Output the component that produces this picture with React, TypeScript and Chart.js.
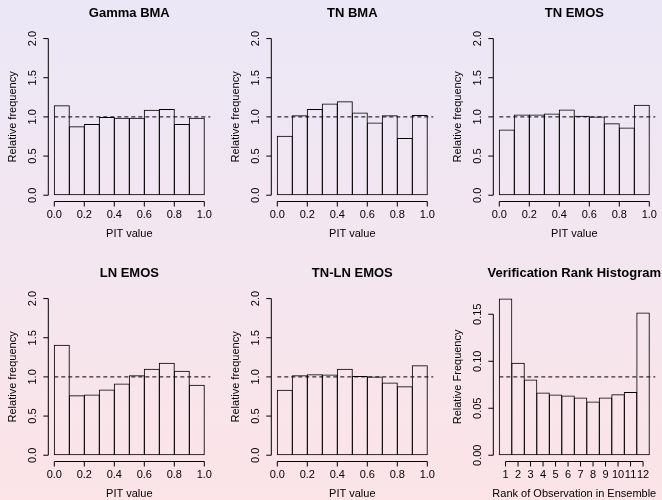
import React, { useEffect, useRef } from "react";
import { Chart, registerables } from "chart.js";

Chart.register(...registerables);

// ---------- data ----------
const pitBinCenters = [0.05, 0.15, 0.25, 0.35, 0.45, 0.55, 0.65, 0.75, 0.85, 0.95];
const pitXTicks = [0, 0.2, 0.4, 0.6, 0.8, 1.0];
const pitXTickLabels = ["0.0", "0.2", "0.4", "0.6", "0.8", "1.0"];
const pitYTicks = [0, 0.5, 1.0, 1.5, 2.0];
const pitYTickLabels = ["0.0", "0.5", "1.0", "1.5", "2.0"];

const gammaBMA = [1.15, 0.88, 0.91, 1.0, 0.99, 0.99, 1.09, 1.1, 0.91, 0.99];
const tnBMA = [0.76, 1.02, 1.1, 1.17, 1.2, 1.055, 0.93, 1.02, 0.73, 1.025];
const tnEMOS = [0.84, 1.03, 1.03, 1.045, 1.095, 1.015, 1.005, 0.92, 0.865, 1.155];
const lnEMOS = [1.41, 0.765, 0.775, 0.84, 0.915, 1.02, 1.105, 1.18, 1.08, 0.9];
const tnlnEMOS = [0.835, 1.02, 1.035, 1.03, 1.105, 1.01, 1.005, 0.93, 0.88, 1.15];

const rankCategories = [1, 2, 3, 4, 5, 6, 7, 8, 9, 10, 11, 12];
const rankValues = [0.1667, 0.0985, 0.0805, 0.0667, 0.0645, 0.0635, 0.0613, 0.0571, 0.0613, 0.0649, 0.0674, 0.1518];
const rankXTickLabels = ["1", "2", "3", "4", "5", "6", "7", "8", "9", "10", "11", "12"];
const rankYTicks = [0, 0.05, 0.1, 0.15];
const rankYTickLabels = ["0.00", "0.05", "0.10", "0.15"];

const FONT = "'Liberation Sans', Arial, Helvetica, sans-serif";

const CANVAS_W = 220;
const CANVAS_H = 250;
const PAD = { left: 48.3, right: 9.7, top: 32.3, bottom: 48.5 };

// R-style axes, titles and reference line, drawn with the chart's own scales
const rAxesPlugin = {
  id: "rAxes",
  afterDraw(chart: any, _args: any, opts: any) {
    const { ctx, chartArea: ca } = chart;
    const x = chart.scales.x;
    const y = chart.scales.y;
    ctx.save();
    ctx.strokeStyle = "#000";
    ctx.fillStyle = "#000";
    ctx.lineWidth = 1;

    // dashed reference line
    const yRef = y.getPixelForValue(opts.refValue);
    ctx.setLineDash([4, 3]);
    ctx.beginPath();
    ctx.moveTo(x.getPixelForValue(opts.refStart), yRef);
    ctx.lineTo(ca.right, yRef);
    ctx.stroke();
    ctx.setLineDash([]);

    // x axis
    const xt = x.ticks;
    const xa = ca.bottom;
    ctx.beginPath();
    ctx.moveTo(x.getPixelForValue(xt[0].value), xa);
    ctx.lineTo(x.getPixelForValue(xt[xt.length - 1].value), xa);
    xt.forEach((t: any) => {
      const px = x.getPixelForValue(t.value);
      ctx.moveTo(px, xa);
      ctx.lineTo(px, xa + 5);
    });
    ctx.stroke();
    ctx.font = `11px ${FONT}`;
    ctx.textAlign = "center";
    ctx.textBaseline = "middle";
    xt.forEach((t: any, i: number) => {
      ctx.fillText(opts.xLabels[i], x.getPixelForValue(t.value), xa + 13.5);
    });
    ctx.fillText(opts.xTitle, (ca.left + ca.right) / 2, xa + 32);

    // y axis
    const yt = y.ticks;
    const ya = ca.left;
    ctx.beginPath();
    ctx.moveTo(ya, y.getPixelForValue(yt[0].value));
    ctx.lineTo(ya, y.getPixelForValue(yt[yt.length - 1].value));
    yt.forEach((t: any) => {
      const py = y.getPixelForValue(t.value);
      ctx.moveTo(ya, py);
      ctx.lineTo(ya - 5, py);
    });
    ctx.stroke();
    yt.forEach((t: any, i: number) => {
      ctx.save();
      ctx.translate(ya - 15, y.getPixelForValue(t.value));
      ctx.rotate(-Math.PI / 2);
      ctx.fillText(opts.yLabels[i], 0, 0);
      ctx.restore();
    });
    ctx.save();
    ctx.translate(ya - 35, (ca.top + ca.bottom) / 2);
    ctx.rotate(-Math.PI / 2);
    ctx.fillText(opts.yTitle, 0, 0);
    ctx.restore();

    // title
    ctx.font = `bold 13px ${FONT}`;
    ctx.fillText(opts.title, (ca.left + ca.right) / 2, 13.5);
    ctx.restore();
  },
};

type PanelProps = {
  title: string;
  kind: "pit" | "rank";
  values: number[];
  left: number;
  top: number;
};

function Panel({ title, kind, values, left, top }: PanelProps) {
  const ref = useRef<HTMLCanvasElement | null>(null);

  useEffect(() => {
    if (!ref.current) return;
    const isPit = kind === "pit";
    const xs = isPit ? pitBinCenters : rankCategories;
    const xTicks = isPit ? pitXTicks : rankCategories;
    const yTicks = isPit ? pitYTicks : rankYTicks;
    const domainMin = isPit ? 0 : 0.5;
    const domainMax = isPit ? 1 : 12.5;
    const span = domainMax - domainMin;
    const yMaxData = isPit ? 2 : Math.max(...values);
    const n = values.length;
    // widen each bar by one pixel so neighbouring 1px outlines coincide (R-style shared edges)
    const plotW = CANVAS_W - PAD.left - PAD.right;
    const binPx = plotW / (n * 1.08);
    const barPct = 1 + 1 / binPx;

    const chart = new Chart(ref.current, {
      type: "bar",
      data: {
        datasets: [
          {
            data: values.map((v, i) => ({ x: xs[i], y: v })),
            backgroundColor: "rgba(0,0,0,0)",
            borderColor: "#000",
            borderSkipped: false,
            borderWidth: 1,
            barPercentage: barPct,
            categoryPercentage: 1,
          } as any,
        ],
      },
      options: {
        responsive: false,
        animation: false,
        events: [],
        layout: { padding: PAD },
        plugins: {
          legend: { display: false },
          tooltip: { enabled: false },
          rAxes: {
            title,
            refValue: isPit ? 1 : 1 / 12,
            refStart: domainMin,
            xLabels: isPit ? pitXTickLabels : rankXTickLabels,
            yLabels: isPit ? pitYTickLabels : rankYTickLabels,
            xTitle: isPit ? "PIT value" : "Rank of Observation in Ensemble",
            yTitle: isPit ? "Relative frequency" : "Relative Frequency",
          },
        } as any,
        scales: {
          x: {
            type: "linear",
            display: false,
            offset: false,
            min: domainMin - 0.04 * span,
            max: domainMax + 0.04 * span,
            ticks: { display: false, autoSkip: false },
            afterBuildTicks: (s: any) => {
              s.ticks = xTicks.map((v) => ({ value: v }));
            },
          },
          y: {
            type: "linear",
            display: false,
            min: -0.04 * yMaxData,
            max: 1.04 * yMaxData,
            ticks: { display: false, autoSkip: false },
            afterBuildTicks: (s: any) => {
              s.ticks = yTicks.map((v) => ({ value: v }));
            },
          },
        },
      },
      plugins: [rAxesPlugin as any],
    });
    return () => chart.destroy();
  }, [title, kind, values]);

  return (
    <canvas
      ref={ref}
      width={CANVAS_W}
      height={CANVAS_H}
      style={{ position: "absolute", left, top, width: CANVAS_W, height: CANVAS_H }}
    />
  );
}

const panels: PanelProps[] = [
  { title: "Gamma BMA", kind: "pit", values: gammaBMA, left: 0, top: 0 },
  { title: "TN BMA", kind: "pit", values: tnBMA, left: 223, top: 0 },
  { title: "TN EMOS", kind: "pit", values: tnEMOS, left: 445, top: 0 },
  { title: "LN EMOS", kind: "pit", values: lnEMOS, left: 0, top: 260 },
  { title: "TN-LN EMOS", kind: "pit", values: tnlnEMOS, left: 223, top: 260 },
  { title: "Verification Rank Histogram", kind: "rank", values: rankValues, left: 445, top: 260 },
];

export default function App() {
  return (
    <div
      style={{
        position: "fixed",
        left: 0,
        top: 0,
        width: 662,
        height: 500,
        overflow: "hidden",
        background: "linear-gradient(to bottom, #ebe7f6 0%, #f3e6f0 50%, #fce4e7 100%)",
      }}
    >
      {panels.map((p) => (
        <Panel key={p.title} {...p} />
      ))}
    </div>
  );
}
